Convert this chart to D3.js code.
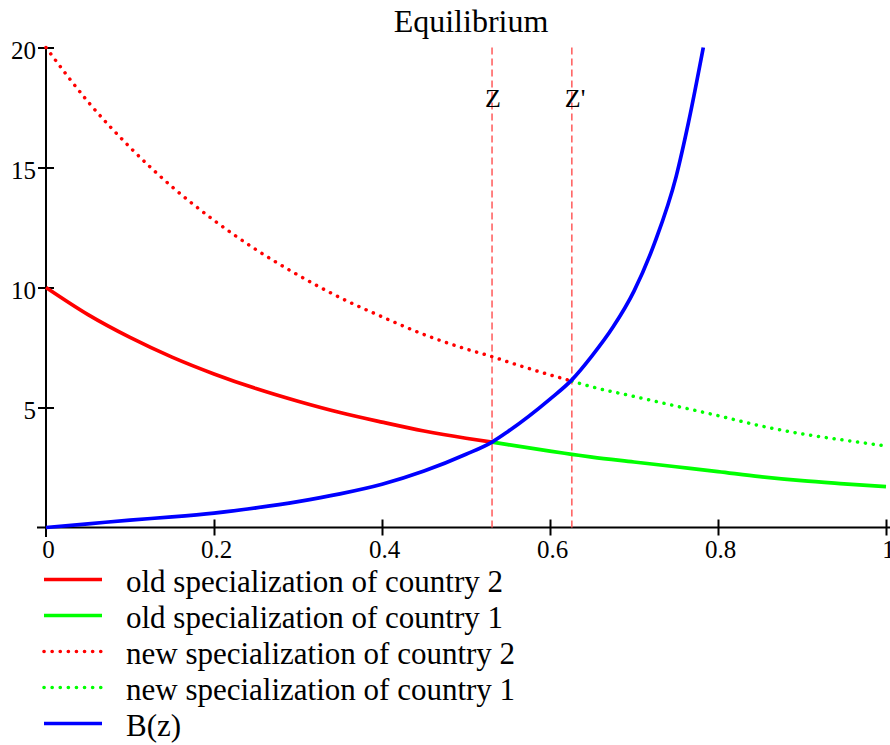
<!DOCTYPE html>
<html>
<head>
<meta charset="utf-8">
<script src="https://cdn.jsdelivr.net/npm/d3@7"></script>
<style>
  html, body { margin: 0; padding: 0; background: #fff; }
  svg { display: block; }
  text { font-family: "Liberation Serif", "Times New Roman", serif; fill: #000; }
</style>
</head>
<body>
<svg id="chart" width="890" height="745"></svg>
<script>
// ---------- data ----------
const zValues = [0, 0.05, 0.1, 0.15, 0.2, 0.25, 0.3, 0.35, 0.4, 0.45, 0.5, 0.531, 0.55, 0.6, 0.626, 0.65, 0.7, 0.75, 0.8, 0.85, 0.9, 0.95, 1];
const oldSpec = [10, 8.87, 7.92, 7.10, 6.40, 5.79, 5.26, 4.79, 4.39, 4.02, 3.72, 3.56, 3.45, 3.18, 3.05, 2.93, 2.73, 2.53, 2.33, 2.12, 1.95, 1.82, 1.70];
const newSpec = [20, 17.74, 15.84, 14.2, 12.8, 11.58, 10.52, 9.58, 8.78, 8.04, 7.44, 7.12, 6.9, 6.36, 6.1, 5.86, 5.46, 5.06, 4.66, 4.24, 3.9, 3.64, 3.40];
const bZ = [0, 0.05, 0.1, 0.15, 0.2, 0.25, 0.3, 0.35, 0.4, 0.45, 0.5, 0.531, 0.55, 0.6, 0.626, 0.65, 0.675, 0.7, 0.725, 0.75, 0.765, 0.7825];
const bValues = [0, 0.15, 0.31, 0.44, 0.60, 0.82, 1.08, 1.40, 1.80, 2.35, 3.05, 3.56, 4.0, 5.35, 6.15, 7.15, 8.35, 9.85, 11.9, 14.6, 16.9, 20];
const zCrossOld = 0.531;   // Z
const zCrossNew = 0.626;   // Z'
const markerLabels = ["Z", "Z'"];
const xTickValues = [0, 0.2, 0.4, 0.6, 0.8, 1];
const xTickLabels = ["0", "0.2", "0.4", "0.6", "0.8", "1"];
const yTickValues = [5, 10, 15, 20];
const yTickLabels = ["5", "10", "15", "20"];
const legendLabels = ["old specialization of country 2", "old specialization of country 1",
                      "new specialization of country 2", "new specialization of country 1", "B(z)"];
const titleText = "Equilibrium";

// ---------- layout ----------
const svg = d3.select("#chart");
const x = d3.scaleLinear().domain([0, 1]).range([46, 886]);
const y = d3.scaleLinear().domain([0, 20]).range([527.5, 47.5]);

const RED = "#ff0000", GREEN = "#00ff00", BLUE = "#0000ff";

// title
svg.append("text").attr("x", 471).attr("y", 32).attr("text-anchor", "middle")
  .style("font-size", "32px").text(titleText);

// axes
const xAxis = d3.axisBottom(x).tickValues(xTickValues).tickFormat((d, i) => xTickLabels[i])
  .tickSizeInner(8).tickSizeOuter(0).tickPadding(5);
const gx = svg.append("g").attr("transform", `translate(0,${y(0)})`).call(xAxis);
gx.select(".domain").remove();
gx.selectAll(".tick line").attr("y1", -8).attr("y2", 8).attr("stroke", "#000").attr("stroke-width", 2);
gx.selectAll(".tick text").style("font-size", "25px").attr("dx", 2);
gx.selectAll(".tick").filter(d => d === 0).select("line").remove();
svg.append("line").attr("x1", 37).attr("x2", 890).attr("y1", y(0)).attr("y2", y(0))
  .attr("stroke", "#000").attr("stroke-width", 2);

const yAxis = d3.axisLeft(y).tickValues(yTickValues).tickFormat((d, i) => yTickLabels[i])
  .tickSizeInner(8).tickSizeOuter(0).tickPadding(2);
const gy = svg.append("g").attr("transform", `translate(${x(0)},0)`).call(yAxis);
gy.select(".domain").remove();
gy.selectAll(".tick line").attr("x1", -8).attr("x2", 8).attr("stroke", "#000").attr("stroke-width", 2);
gy.selectAll(".tick text").style("font-size", "25px").attr("dy", "0.45em");
svg.append("line").attr("x1", x(0)).attr("x2", x(0)).attr("y1", y(20)).attr("y2", 537)
  .attr("stroke", "#000").attr("stroke-width", 2);

// vertical marker lines
[zCrossOld, zCrossNew].forEach((zc, i) => {
  svg.append("line").attr("x1", x(zc)).attr("x2", x(zc)).attr("y1", y(20)).attr("y2", y(0))
    .attr("stroke", "#ff5a5a").attr("stroke-width", 1.5).attr("stroke-dasharray", "7 4");
  svg.append("text").attr("x", x(zc) - 7).attr("y", 107).style("font-size", "26px")
    .text(markerLabels[i]);
});

// curves
const line = d3.line().x(d => x(d[0])).y(d => y(d[1])).curve(d3.curveMonotoneX);
const pairs = (zs, vs) => zs.map((z, i) => [z, vs[i]]);
const oldPts = pairs(zValues, oldSpec);
const newPts = pairs(zValues, newSpec);
const bPts = pairs(bZ, bValues);

function drawCurve(pts, color, dotted) {
  const p = svg.append("path").attr("d", line(pts)).attr("fill", "none")
    .attr("stroke", color);
  if (dotted) {
    p.attr("stroke-width", 3.5).attr("stroke-linecap", "round").attr("stroke-dasharray", "0.1 7.8");
  } else {
    p.attr("stroke-width", 3.7).attr("stroke-linejoin", "round");
  }
}
drawCurve(newPts.filter(d => d[0] <= zCrossNew), RED, true);
drawCurve(newPts.filter(d => d[0] >= zCrossNew), GREEN, true);
drawCurve(oldPts.filter(d => d[0] <= zCrossOld), RED, false);
drawCurve(oldPts.filter(d => d[0] >= zCrossOld), GREEN, false);
drawCurve(bPts, BLUE, false);

// legend
const legendStyles = [
  { color: RED, dotted: false }, { color: GREEN, dotted: false },
  { color: RED, dotted: true }, { color: GREEN, dotted: true }, { color: BLUE, dotted: false }
];
const legendY = d3.scaleLinear().domain([0, 4]).range([579.5, 723.5]);
legendLabels.forEach((lab, i) => {
  const ly = legendY(i);
  const st = legendStyles[i];
  const l = svg.append("line").attr("x1", 44).attr("x2", 102).attr("y1", ly).attr("y2", ly)
    .attr("stroke", st.color).attr("stroke-width", 3.6);
  if (st.dotted) l.attr("stroke-linecap", "round").attr("stroke-dasharray", "0.1 8");
  svg.append("text").attr("x", 126).attr("y", ly + 12).style("font-size", "31px").text(lab);
});
</script>
</body>
</html>
